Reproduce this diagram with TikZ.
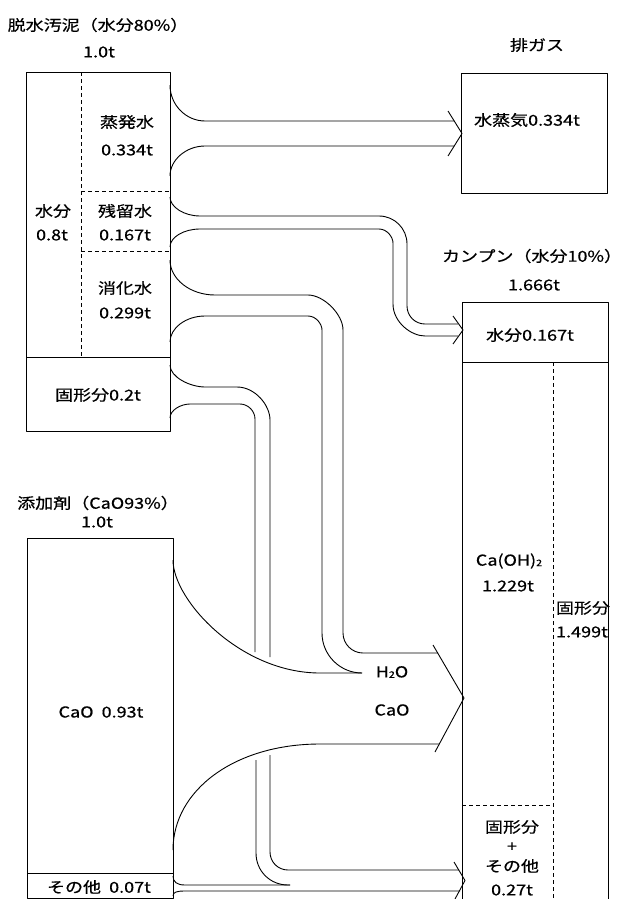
\documentclass[tikz,border=0pt]{standalone}
\usepackage{fontspec}
\setmainfont{Noto Sans CJK JP}[FakeStretch=1.2,FakeBold=0.6]
\newcommand{\subtwo}{\raisebox{-0.5pt}{\fontsize{9}{9}\selectfont 2}}
\tikzset{
  ln/.style={line width=0.9pt, line join=round},
  dsh/.style={line width=0.6pt, dash pattern=on 4pt off 3pt},
  lbl/.style={font=\fontsize{15}{15}\selectfont, inner sep=0pt, anchor=center, align=center},
}
\begin{document}
\begin{tikzpicture}[x=1pt,y=-1pt]
\useasboundingbox (0,0) rectangle (623,899);

% ---------- boxes ----------
\draw[ln] (26,72) rectangle (170,431);
\draw[ln] (26,357) -- (170,357);
\draw[dsh] (81,72) -- (81,357);
\draw[dsh] (81,191) -- (170,191);
\draw[dsh] (81,251) -- (170,251);

\draw[ln] (27,538) rectangle (173,898);
\draw[ln] (27,873) -- (173,873);

\draw[ln] (461,73) rectangle (607,193);

\draw[ln] (462,899) -- (462,302) -- (608,302) -- (608,899);
\draw[ln] (462,362) -- (608,362);
\draw[dsh] (553,362) -- (553,899);
\draw[dsh] (462,805) -- (553,805);

% ---------- flow 1: evaporated water ----------
\draw[ln] (170,85) .. controls (170,105) and (186,121) .. (205,121) -- (454,121);
\draw[ln] (170,176) .. controls (170,160) and (186,146) .. (205,146) -- (454,146);
\draw[ln] (448,111) -- (462,133.5) -- (448,156);

% ---------- flow 2: residual water ----------
\draw[ln] (170,197) .. controls (170,207) and (184,216) .. (200,216) -- (379,216)
  .. controls (394.5,216) and (407,228.5) .. (407,244) -- (407,306)
  .. controls (407,316) and (415,324) .. (425,324) -- (458,324);
\draw[ln] (170,247) .. controls (170,237) and (184,229) .. (200,229) -- (379,229)
  .. controls (387,229) and (393,237) .. (393,243) -- (393,304)
  .. controls (393,322) and (411,336) .. (425,336) -- (458,336);
\draw[ln] (453,316) -- (463,330) -- (453,344);

% ---------- flow 3: slaking water (H2O) ----------
\draw[ln] (170,260) .. controls (170,279) and (190,295) .. (215,295) -- (308,295)
  .. controls (323.7,295) and (343,314.3) .. (343,330) -- (343,633)
  .. controls (343,644) and (352,653) .. (363,653) -- (438,653);
\draw[ln] (170,342) .. controls (170,328) and (186,316) .. (205,316) -- (308,316)
  .. controls (316,316) and (322,324) .. (322,330) -- (322,633)
  .. controls (322,655) and (340,673) .. (362,673);

% ---------- CaO ----------
\draw[ln] (173,560) .. controls (173,600) and (240,673) .. (320,673) -- (362,673);
\draw[ln] (173,850) .. controls (173,790) and (235,744) .. (320,744) -- (439,744);
\draw[ln] (433,645) -- (464,698) -- (435,752);

% ---------- solids ----------
\draw[ln] (170,365) .. controls (170,377) and (190,387) .. (205,387) -- (237,387)
  .. controls (255,387) and (270,405) .. (270,420) -- (270,657);
\draw[ln] (170,418) .. controls (170,410) and (181,404) .. (190,404) -- (240,404)
  .. controls (248,404) and (255,411) .. (255,419) -- (255,652);
\draw[ln] (270,755) -- (270,852) .. controls (270,862) and (278,870) .. (288,870) -- (459,870);
\draw[ln] (256,760) -- (256,853) .. controls (256,871) and (270,885) .. (288,885) -- (290,885);

% ---------- others ----------
\draw[ln] (173,876) .. controls (173,882) and (177,885) .. (185,885) -- (290,885);
\draw[ln] (173,896) .. controls (173,892) and (177,891) .. (185,891) -- (460,891);
\draw[ln] (454,862) -- (465,880.5) -- (455,899);

% ---------- labels ----------
\node[lbl] (tSludge) at (98,25) {脱水汚泥（水分80\%）};
\node[lbl] (tSludgeW) at (99,52) {1.0t};
\node[lbl] (tEvap) at (127,122) {蒸発水};
\node[lbl] (tEvapW) at (127,150) {0.334t};
\node[lbl] (tWater) at (53,211) {水分};
\node[lbl] (tWaterW) at (52,235) {0.8t};
\node[lbl] (tRes) at (125,211) {残留水};
\node[lbl] (tResW) at (125,235) {0.167t};
\node[lbl] (tSlake) at (125,288) {消化水};
\node[lbl] (tSlakeW) at (125,313) {0.299t};
\node[lbl] (tSolid) at (98,395) {固形分0.2t};

\node[lbl] (tAdd) at (98,503) {添加剤（CaO93\%）};
\node[lbl] (tAddW) at (97,522) {1.0t};
\node[lbl] (tCaO) at (101,712) {CaO\ \ 0.93t};
\node[lbl] (tOther) at (99,887) {その他\ \ 0.07t};

\node[lbl] (tH2O) at (392,672) {H\subtwo O};
\node[lbl] (tCaO2) at (392,710) {CaO};

\node[lbl] (tGas) at (537,45) {排ガス};
\node[lbl] (tSteam) at (527,120) {水蒸気0.334t};

\node[lbl] (tKan) at (532,256) {カンプン（水分10\%）};
\node[lbl] (tKanW) at (534,285) {1.666t};
\node[lbl] (tKanWater) at (530,335) {水分0.167t};
\node[lbl] (tCaOH) at (509,561) {Ca(OH)\subtwo};
\node[lbl] (tCaOHW) at (508,586) {1.229t};
\node[lbl] (tSolidR) at (583,608) {固形分};
\node[lbl] (tSolidRW) at (582,632) {1.499t};
\node[lbl] (tS1) at (512,827) {固形分};
\node[lbl] (tS2) at (512,847) {+};
\node[lbl] (tS3) at (512,866) {その他};
\node[lbl] (tS4) at (512,890) {0.27t};
\end{tikzpicture}
\end{document}
